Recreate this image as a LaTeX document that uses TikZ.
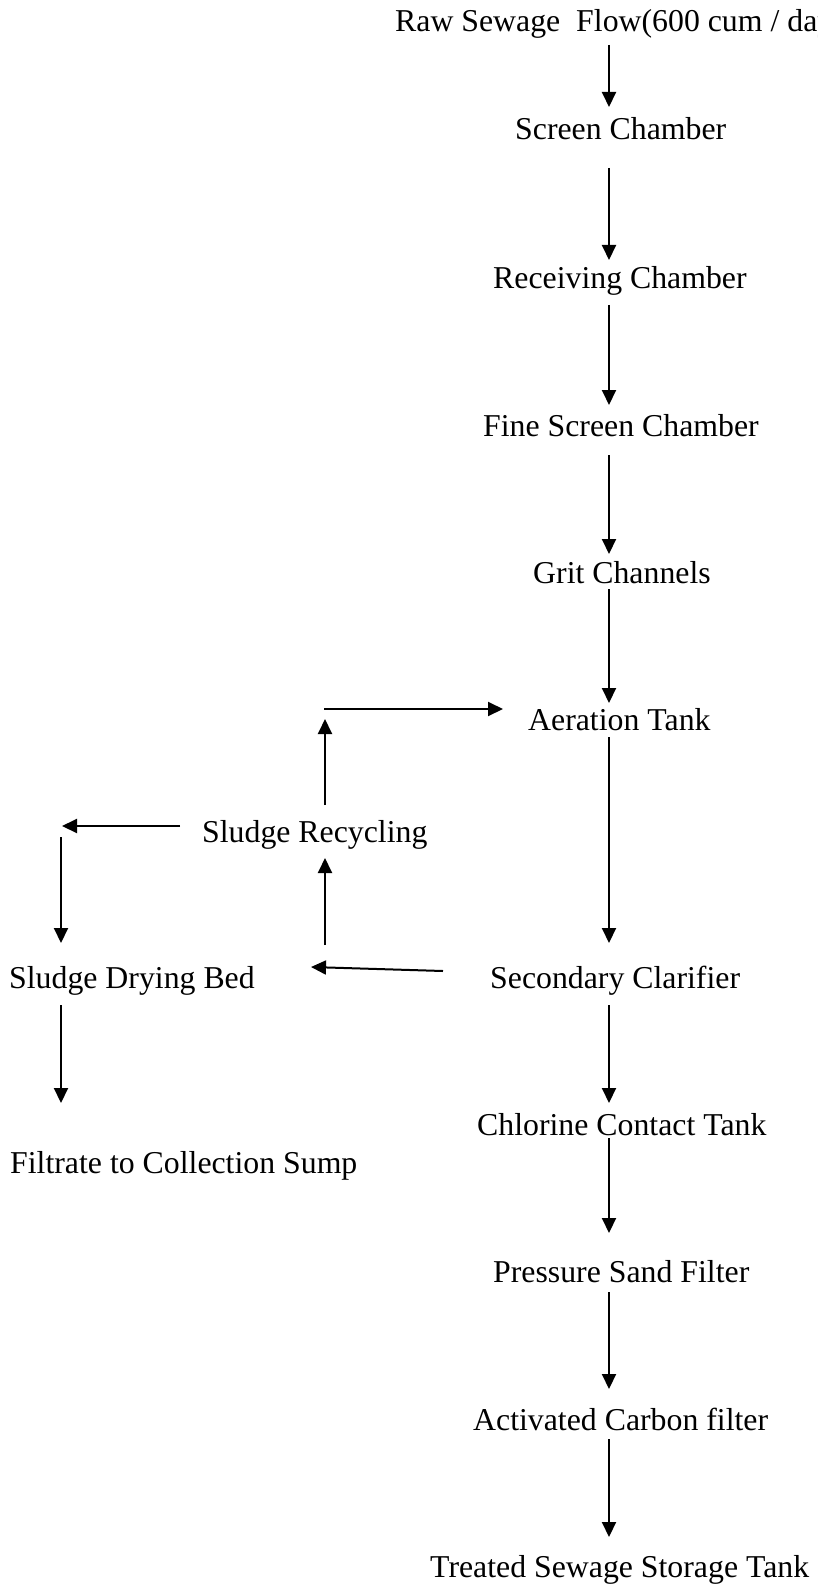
\documentclass[tikz,border=0pt]{standalone}
\usepackage{fontspec}
\setmainfont{Liberation Serif}
\usetikzlibrary{arrows.meta}
\begin{document}
\begin{tikzpicture}[x=1pt,y=-1pt,
  lbl/.style={anchor=base west,inner sep=0pt,font=\fontsize{31.8}{38}\selectfont},
  arr/.style={line width=2pt,-{Triangle[width=14pt,length=15pt]}}]
\useasboundingbox (0,0) rectangle (817,1586);
\clip (0,0) rectangle (817,1586);
% labels
\node[lbl] (raw) at (395,32) {Raw Sewage\ \ Flow(600 cum / day)};
\node[lbl] (screen) at (515,140) {Screen Chamber};
\node[lbl] (recv) at (493,289) {Receiving Chamber};
\node[lbl] (fine) at (483,436) {Fine Screen Chamber};
\node[lbl] (grit) at (533,583) {Grit Channels};
\node[lbl] (aer) at (528,730) {Aeration Tank};
\node[lbl] (recyc) at (202,842) {Sludge Recycling};
\node[lbl] (dry) at (9,988) {Sludge Drying Bed};
\node[lbl] (sec) at (490,988) {Secondary Clarifier};
\node[lbl] (chl) at (477,1135) {Chlorine Contact Tank};
\node[lbl] (filt) at (10,1173) {Filtrate to Collection Sump};
\node[lbl] (psf) at (493,1282) {Pressure Sand Filter};
\node[lbl] (acf) at (473,1430) {Activated Carbon filter};
\node[lbl] (tst) at (430,1577) {Treated Sewage Storage Tank};
% arrow end points
\coordinate (a1s) at (609,45);   \coordinate (a1e) at (609,107);
\coordinate (a2s) at (609,168);  \coordinate (a2e) at (609,260);
\coordinate (a3s) at (609,305);  \coordinate (a3e) at (609,405);
\coordinate (a4s) at (609,455);  \coordinate (a4e) at (609,554);
\coordinate (a5s) at (609,589);  \coordinate (a5e) at (609,703);
\coordinate (a6s) at (609,737);  \coordinate (a6e) at (609,943);
\coordinate (a7s) at (609,1005); \coordinate (a7e) at (609,1103);
\coordinate (a8s) at (609,1138); \coordinate (a8e) at (609,1233);
\coordinate (a9s) at (609,1292); \coordinate (a9e) at (609,1389);
\coordinate (a10s) at (609,1439); \coordinate (a10e) at (609,1537);
\coordinate (h1s) at (324,709);  \coordinate (h1e) at (503,709);
\coordinate (u1s) at (325,805);  \coordinate (u1e) at (325,719);
\coordinate (u2s) at (325,945);  \coordinate (u2e) at (325,858);
\coordinate (l1s) at (180,826);  \coordinate (l1e) at (62,826);
\coordinate (d1s) at (61,837);   \coordinate (d1e) at (61,943);
\coordinate (l2s) at (443,971);  \coordinate (l2e) at (311,967);
\coordinate (d2s) at (61,1005);  \coordinate (d2e) at (61,1103);
% main flow
\draw[arr] (a1s) -- (a1e);
\draw[arr] (a2s) -- (a2e);
\draw[arr] (a3s) -- (a3e);
\draw[arr] (a4s) -- (a4e);
\draw[arr] (a5s) -- (a5e);
\draw[arr] (a6s) -- (a6e);
\draw[arr] (a7s) -- (a7e);
\draw[arr] (a8s) -- (a8e);
\draw[arr] (a9s) -- (a9e);
\draw[arr] (a10s) -- (a10e);
% sludge loop
\draw[arr] (h1s) -- (h1e);
\draw[arr] (u1s) -- (u1e);
\draw[arr] (u2s) -- (u2e);
\draw[arr] (l1s) -- (l1e);
\draw[arr] (d1s) -- (d1e);
\draw[arr] (l2s) -- (l2e);
\draw[arr] (d2s) -- (d2e);
\end{tikzpicture}
\end{document}
